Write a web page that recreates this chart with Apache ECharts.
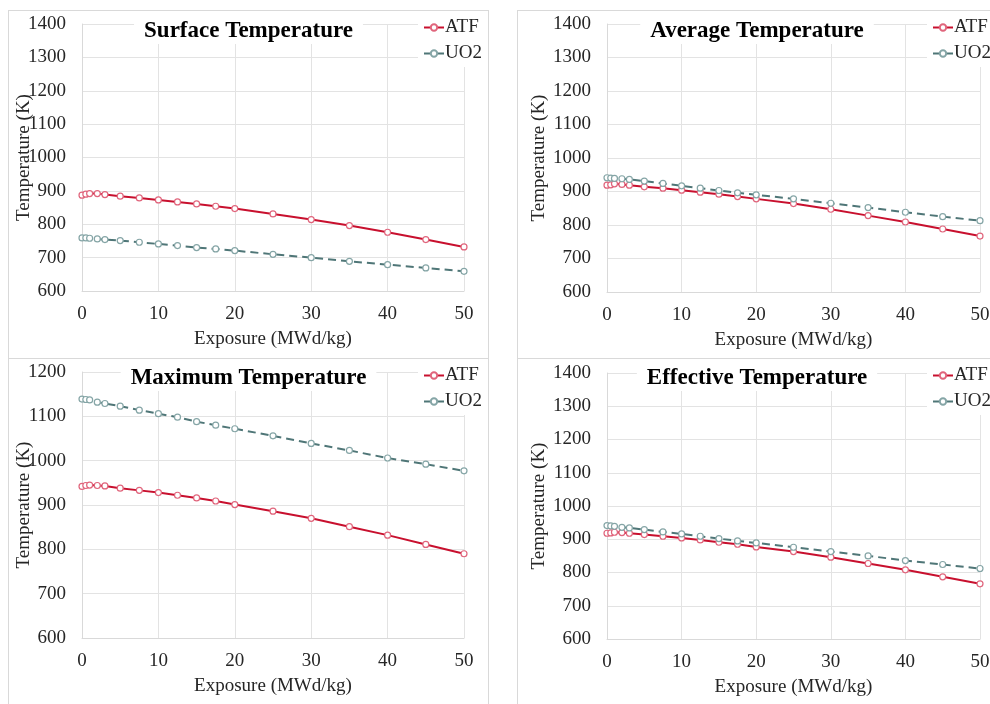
<!DOCTYPE html>
<html>
<head>
<meta charset="utf-8">
<script src="https://cdn.jsdelivr.net/npm/echarts@6/dist/echarts.min.js"></script>
<style>
    body {margin:0; background:#fff; width:990px; height:704px; overflow:hidden; position:relative}
    .panel {position:absolute; border:1px solid #d9d9d9; box-sizing:border-box}
</style>
</head>
<body>
<div class="panel" id="p1" style="left:8px;top:10px;width:481px;height:349px"></div>
<div class="panel" id="p2" style="left:517px;top:10px;width:480px;height:349px"></div>
<div class="panel" id="p3" style="left:8px;top:358px;width:481px;height:360px"></div>
<div class="panel" id="p4" style="left:517px;top:358px;width:480px;height:360px"></div>
<script>
    // exposure points (MWd/kg)
    var exposure = [0, 0.5, 1, 2, 3, 5, 7.5, 10, 12.5, 15, 17.5, 20, 25, 30, 35, 40, 45, 50];

    var surfaceATF = [887, 890, 892, 892, 889, 884, 879, 873, 867, 861, 854, 847, 831, 814, 796, 776, 754, 732];
    var surfaceUO2 = [759, 759, 758, 756, 754, 751, 746, 741, 736, 730, 726, 721, 710, 700, 689, 679, 669, 659];

    var averageATF = [919, 920, 923, 921, 919, 914, 910, 904, 898, 892, 885, 878, 864, 847, 828, 809, 788, 767];
    var averageUO2 = [941, 940, 939, 938, 936, 931, 924, 917, 910, 903, 896, 890, 878, 865, 852, 838, 825, 813];

    var maximumATF = [942, 944, 945, 944, 943, 938, 933, 928, 922, 916, 909, 901, 886, 870, 851, 832, 811, 790];
    var maximumUO2 = [1139, 1138, 1137, 1132, 1129, 1123, 1114, 1106, 1098, 1088, 1080, 1072, 1056, 1039, 1023, 1006, 992, 977];

    var effectiveATF = [918, 919, 921, 920, 918, 914, 909, 904, 898, 891, 885, 877, 863, 846, 827, 808, 787, 766];
    var effectiveUO2 = [941, 940, 939, 936, 934, 929, 922, 916, 909, 902, 895, 889, 876, 863, 850, 836, 824, 812];

    var serif = 'Liberation Serif';

    function pairs(ys) {
        return exposure.map(function (x, i) {
            return [x, ys[i]];
        });
    }

    function panel(id, title, atf, uo2, yMax, grid, titleTop, yNameGap) {
        var chart = echarts.init(document.getElementById(id));
        grid.outerBoundsMode = 'none';
        chart.setOption({
            animation: false,
            title: {
                text: title, left: 'center', top: titleTop,
                backgroundColor: '#fff', padding: [1, 10],
                textStyle: {fontFamily: serif, fontSize: 23, fontWeight: 'bold', color: '#000'}
            },
            legend: {
                orient: 'vertical', left: 409, top: 5,
                backgroundColor: '#fff', padding: [2, 0, 4, 5],
                itemWidth: 20, itemHeight: 8, itemGap: 7,
                textStyle: {fontFamily: serif, fontSize: 19, color: '#262626', padding: [0, 0, 0, -4]},
                data: ['ATF', 'UO2']
            },
            grid: grid,
            xAxis: {
                type: 'value', min: 0, max: 50, interval: 10,
                name: 'Exposure (MWd/kg)', nameLocation: 'middle', nameGap: 39, nameMoveOverlap: false,
                nameTextStyle: {fontFamily: serif, fontSize: 19, color: '#262626'},
                axisLine: {show: true, lineStyle: {color: '#d9d9d9'}},
                axisTick: {show: false},
                axisLabel: {fontFamily: serif, fontSize: 19, color: '#262626', margin: 14},
                splitLine: {show: true, lineStyle: {color: '#e3e3e3'}}
            },
            yAxis: {
                type: 'value', min: 600, max: yMax, interval: 100,
                name: 'Temperature (K)', nameLocation: 'middle', nameGap: yNameGap, nameMoveOverlap: false,
                nameTextStyle: {fontFamily: serif, fontSize: 19, color: '#262626'},
                axisLine: {show: true, lineStyle: {color: '#d9d9d9'}},
                axisTick: {show: false},
                axisLabel: {
                    fontFamily: serif, fontSize: 19, color: '#262626', margin: 16,
                    formatter: function (v) {
                        return String(v);
                    }
                },
                splitLine: {show: true, lineStyle: {color: '#e3e3e3'}}
            },
            series: [
                {
                    name: 'ATF', type: 'line', data: pairs(atf),
                    symbol: 'circle', symbolSize: 6,
                    lineStyle: {color: '#c8102e', width: 2},
                    itemStyle: {color: '#fff', borderColor: '#e0657c', borderWidth: 1.2}
                },
                {
                    name: 'UO2', type: 'line', data: pairs(uo2),
                    symbol: 'circle', symbolSize: 6,
                    lineStyle: {color: '#4f7677', width: 2, type: [8, 5]},
                    itemStyle: {color: '#fff', borderColor: '#85a5a6', borderWidth: 1.2}
                }
            ]
        });
    }

    panel('p1', 'Surface Temperature', surfaceATF, surfaceUO2, 1400,
        {left: 73, top: 13, width: 382, height: 267}, 8, 48);
    panel('p2', 'Average Temperature', averageATF, averageUO2, 1400,
        {left: 89, top: 13, width: 373, height: 268}, 8, 58);
    panel('p3', 'Maximum Temperature', maximumATF, maximumUO2, 1200,
        {left: 73, top: 13, width: 382, height: 266}, 7, 48);
    panel('p4', 'Effective Temperature', effectiveATF, effectiveUO2, 1400,
        {left: 89, top: 14, width: 373, height: 266}, 7, 58);
</script>
</body>
</html>
